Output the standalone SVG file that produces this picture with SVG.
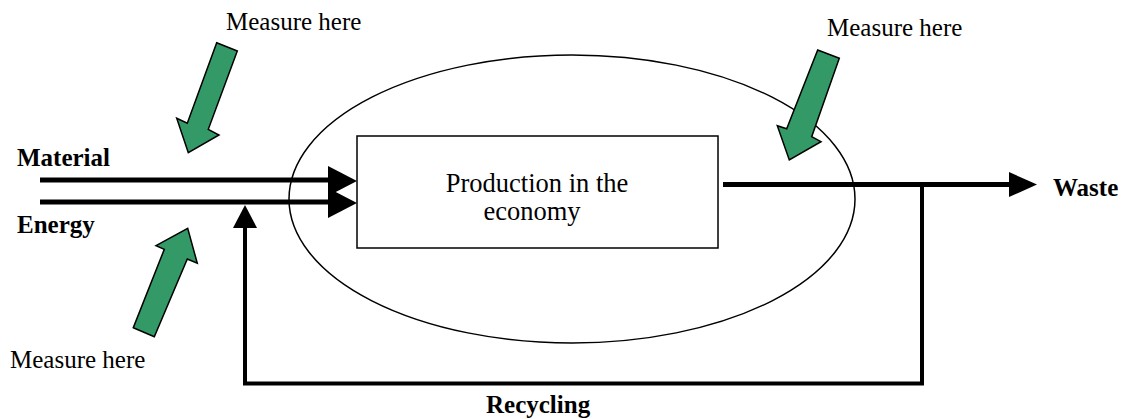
<svg xmlns="http://www.w3.org/2000/svg" width="1125" height="419" viewBox="0 0 1125 419">
<style>
.lbl{font-family:"Liberation Serif","Times New Roman",serif;font-size:25px;fill:#000}
.b{font-weight:bold}
.flow{stroke:#000;stroke-width:5;fill:none}
.ga{fill:#339966;stroke:#000;stroke-width:1.5;stroke-linejoin:miter}
.head{fill:#000}
</style>
<rect width="1125" height="419" fill="#fff"/>
<g id="boundary">
<ellipse cx="572" cy="199" rx="283" ry="144" fill="none" stroke="#000" stroke-width="1.5"/>
</g>
<g id="production">
<rect x="357" y="136" width="361" height="112" fill="#fff" stroke="#000" stroke-width="1.5"/>
<text class="lbl" x="537" y="192" text-anchor="middle" style="font-size:26.5px">Production in the</text>
<text class="lbl" x="532" y="220" text-anchor="middle" style="font-size:26.5px">economy</text>
</g>
<g id="connectors">
<line class="flow" x1="40" y1="180" x2="330" y2="180"/>
<polygon class="head" points="328,166 357,181 328,196"/>
<line class="flow" x1="40" y1="202" x2="330" y2="202"/>
<polygon class="head" points="328,188 357,203 328,218"/>
<line class="flow" x1="723" y1="184.5" x2="1011" y2="184.5"/>
<polygon class="head" points="1009,172 1037,184.5 1009,197"/>
<polyline class="flow" style="stroke-width:4" points="922,184 922,383.5 245,383.5 245,226"/>
<polygon class="head" points="233,228 245,205 257,228"/>
</g>
<g id="label-material"><text class="lbl b" x="17" y="166">Material</text></g>
<g id="label-energy"><text class="lbl b" x="17" y="233">Energy</text></g>
<g id="label-waste"><text class="lbl b" x="1053" y="196">Waste</text></g>
<g id="label-recycling"><text class="lbl b" x="486" y="413">Recycling</text></g>
<g id="measure-input-top">
<polygon class="ga" points="216.7,42.7 237.3,51 208.3,129.3 219,135 188.3,152.7 176.7,118.3 187.3,123.3"/>
<text class="lbl" x="226" y="30">Measure here</text>
</g>
<g id="measure-input-bottom">
<polygon class="ga" points="133.3,327.7 154.3,336.7 187.3,259 197.3,263.3 187.7,228.3 156,245.7 164.3,249.3"/>
<text class="lbl" x="10" y="368">Measure here</text>
</g>
<g id="measure-output">
<polygon class="ga" points="817.7,50 839.3,58.3 811.7,136.7 821,141.7 789.3,160 777.3,125.7 786.7,128.7"/>
<text class="lbl" x="827" y="36">Measure here</text>
</g>
</svg>
